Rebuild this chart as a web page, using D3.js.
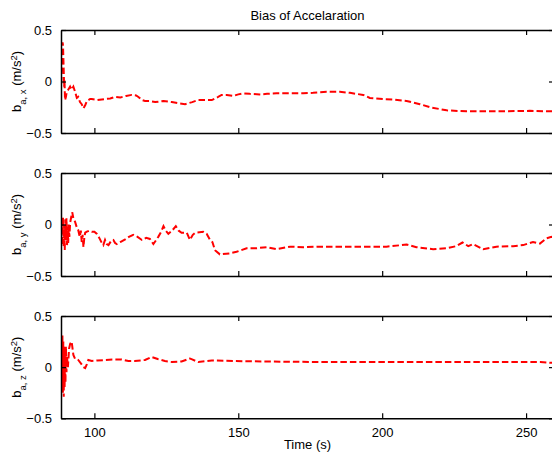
<!DOCTYPE html>
<html>
<head>
<meta charset="utf-8">
<script src="https://cdn.jsdelivr.net/npm/d3@7"></script>
<style>
  html, body { margin: 0; padding: 0; background: #fff; }
  svg { display: block; font-family: "Liberation Sans", Arial, Helvetica, sans-serif; }
</style>
</head>
<body>
<svg id="chart" width="552" height="455"></svg>
<script>
// Accelerometer bias estimates (m/s^2) over time (s)
const timeX = [88.5, 88.7, 88.8, 88.95, 89.1, 89.25, 89.4, 89.5, 89.6, 89.8, 90.1, 90.4, 90.9, 91.56, 92.1, 92.7, 93.3, 93.9, 94.4, 95.0, 95.6, 96.2, 96.8, 97.4, 98.5, 99.1, 101, 103.7, 105.5, 107.2, 109, 111, 113, 114.5, 115.3, 116.5, 117.6, 119, 121.1, 124, 126.9, 129, 131.5, 134, 136.1, 138.5, 140.8, 143, 144.2, 146, 148.3, 150, 151.7, 154, 157.5, 160, 163.3, 168, 172.6, 176, 180.7, 185.3, 188.8, 191, 193.4, 195.7, 200.3, 204, 208.5, 213.1, 216.6, 222.4, 229.3, 240.9, 251.3, 258.3, 260];
const biasX = [-0.02, 0.15, 0.3, 0.38, 0.35, 0.2, 0.05, -0.05, 0.02, -0.18, -0.15, -0.1, -0.08, -0.05, -0.08, -0.05, -0.1, -0.16, -0.15, -0.2, -0.22, -0.26, -0.23, -0.19, -0.17, -0.17, -0.18, -0.17, -0.165, -0.15, -0.155, -0.14, -0.13, -0.135, -0.15, -0.18, -0.19, -0.19, -0.2, -0.19, -0.2, -0.21, -0.22, -0.2, -0.18, -0.18, -0.18, -0.15, -0.13, -0.13, -0.14, -0.125, -0.115, -0.12, -0.125, -0.12, -0.115, -0.115, -0.115, -0.11, -0.1, -0.1, -0.11, -0.12, -0.13, -0.16, -0.17, -0.175, -0.19, -0.22, -0.25, -0.28, -0.29, -0.29, -0.285, -0.29, -0.29];

const timeY = [88.5, 88.7, 88.9, 89.1, 89.3, 89.5, 89.7, 89.9, 90.1, 90.3, 90.5, 90.7, 90.9, 91.1, 91.3, 91.6, 92.0, 92.3, 92.7, 93.3, 93.9, 94.4, 94.9, 95.3, 95.6, 95.9, 96.2, 96.5, 96.8, 97.4, 98.2, 99.1, 100.0, 100.8, 101.7, 102.6, 103.1, 103.7, 104.3, 104.9, 105.8, 106.6, 107.2, 107.8, 109.0, 110.7, 112.0, 113.5, 115.0, 116.5, 118.0, 119.3, 120.5, 121.5, 122.2, 123.2, 124.0, 124.8, 125.7, 127.0, 128.3, 129.3, 130.3, 132.1, 133.2, 134.2, 135.0, 137.8, 139.0, 140.2, 141.0, 141.9, 143.6, 147.1, 149.4, 152.9, 156.4, 159.9, 163.3, 168.0, 172.6, 177.2, 185.3, 193.4, 201.5, 208.5, 211.9, 217.7, 222.4, 225.8, 227.9, 229.9, 231.6, 235.1, 239.7, 245.5, 249.0, 252.4, 254.8, 257.1, 258.8, 260];
const biasY = [-0.05, 0.05, -0.2, 0.07, -0.22, 0.0, -0.25, 0.05, -0.15, 0.06, -0.2, -0.02, -0.18, 0.0, -0.12, 0.02, 0.08, 0.12, 0.06, 0.025, -0.03, -0.055, -0.12, -0.06, -0.17, -0.1, -0.22, -0.13, -0.08, -0.07, -0.06, -0.07, -0.07, -0.09, -0.13, -0.18, -0.2, -0.15, -0.19, -0.2, -0.16, -0.15, -0.18, -0.19, -0.17, -0.145, -0.12, -0.1, -0.12, -0.15, -0.13, -0.14, -0.19, -0.15, -0.12, -0.07, -0.016, -0.06, -0.09, -0.06, -0.016, -0.06, -0.08, -0.08, -0.15, -0.1, -0.08, -0.07, -0.09, -0.15, -0.17, -0.25, -0.29, -0.28, -0.265, -0.23, -0.23, -0.22, -0.24, -0.215, -0.22, -0.215, -0.215, -0.215, -0.215, -0.195, -0.22, -0.24, -0.23, -0.21, -0.175, -0.21, -0.19, -0.24, -0.215, -0.21, -0.2, -0.17, -0.185, -0.135, -0.12, -0.13];

const timeZ = [88.4, 88.6, 88.75, 88.9, 89.05, 89.2, 89.35, 89.5, 89.65, 89.8, 89.95, 90.1, 90.3, 90.5, 90.8, 91.2, 91.6, 92.1, 92.7, 93.3, 94.4, 95.5, 96.2, 96.8, 97.4, 97.9, 99.1, 101, 103.7, 107, 109.5, 111.8, 114, 117.6, 119.9, 122, 124.5, 126.9, 130.3, 133.2, 136.1, 140.8, 148.9, 160, 180, 200, 220, 240, 255, 260];
const biasZ = [0.0, 0.3, -0.2, 0.31, -0.25, 0.25, -0.29, 0.2, -0.2, 0.15, -0.15, 0.2, -0.05, 0.1, 0.0, 0.18, 0.23, 0.25, 0.12, 0.08, 0.07, 0.03, 0.0, -0.01, 0.03, 0.07, 0.06, 0.065, 0.07, 0.075, 0.075, 0.06, 0.06, 0.07, 0.1, 0.08, 0.06, 0.05, 0.055, 0.085, 0.05, 0.065, 0.06, 0.055, 0.05, 0.05, 0.05, 0.05, 0.05, 0.04];

const xTicks = [100, 150, 200, 250];
const yTicks = [-0.5, 0, 0.5];
const xDomain = [88.4, 259.7];
const yDomain = [-0.5, 0.5];
const axisLabels = ["x", "y", "z"];
const chartTitle = "Bias of Accelaration";
const xTitle = "Time (s)";

const svg = d3.select("#chart");
const left = 61, right = 554;
const panels = [
  { top: 30, bottom: 133, t: timeX, v: biasX, comp: axisLabels[0] },
  { top: 173, bottom: 276, t: timeY, v: biasY, comp: axisLabels[1] },
  { top: 316, bottom: 418.3, t: timeZ, v: biasZ, comp: axisLabels[2] }
];

const x = d3.scaleLinear().domain(xDomain).range([left, right]);
const tickLen = 5;

panels.forEach((p, i) => {
  const y = d3.scaleLinear().domain(yDomain).range([p.bottom, p.top]);
  const g = svg.append("g");

  const clipId = "clip" + i;
  svg.append("clipPath").attr("id", clipId)
    .append("rect").attr("x", left).attr("y", p.top)
    .attr("width", right - left).attr("height", p.bottom - p.top);

  // data trace
  const line = d3.line().x((d, k) => x(p.t[k])).y(d => y(d));
  g.append("path")
    .datum(p.v)
    .attr("clip-path", `url(#${clipId})`)
    .attr("d", line)
    .attr("fill", "none")
    .attr("stroke", "#ff0000")
    .attr("stroke-width", 2)
    .attr("stroke-dasharray", "6.5,3");

  const isLast = i === panels.length - 1;

  // bottom axis (labels on the last panel only)
  const bottomAxis = d3.axisBottom(x).tickValues(xTicks).tickSizeInner(-tickLen).tickSizeOuter(0)
    .tickPadding(tickLen + 4).tickFormat(isLast ? d3.format("d") : () => "");
  const topAxis = d3.axisTop(x).tickValues(xTicks).tickSizeInner(-tickLen).tickSizeOuter(0).tickFormat(() => "");
  const leftAxis = d3.axisLeft(y).tickValues(yTicks).tickSizeInner(-tickLen).tickSizeOuter(0)
    .tickPadding(tickLen + 4).tickFormat(d => d === 0 ? "0" : d3.format(".1f")(d));
  const rightAxis = d3.axisRight(y).tickValues(yTicks).tickSizeInner(-tickLen).tickSizeOuter(0).tickFormat(() => "");

  const styleAxis = sel => {
    sel.select(".domain").attr("stroke", "#000").attr("stroke-width", 1.5);
    sel.selectAll(".tick line").attr("stroke", "#000").attr("stroke-width", 1.2);
    sel.selectAll(".tick text").attr("fill", "#000").attr("font-size", 13)
      .attr("font-family", "Liberation Sans, Arial, Helvetica, sans-serif");
  };

  g.append("g").attr("transform", `translate(0,${p.bottom})`).call(bottomAxis).call(styleAxis);
  g.append("g").attr("transform", `translate(0,${p.top})`).call(topAxis).call(styleAxis);
  g.append("g").attr("transform", `translate(${left},0)`).call(leftAxis).call(styleAxis);
  g.append("g").attr("transform", `translate(${right},0)`).call(rightAxis).call(styleAxis);

  // y-axis label: b_{a, c} (m/s^2)
  const cy = (p.top + p.bottom) / 2;
  const lab = svg.append("text")
    .attr("transform", `translate(21,${cy}) rotate(-90)`)
    .attr("text-anchor", "middle")
    .attr("font-size", 13)
    .attr("fill", "#000");
  lab.append("tspan").text("b");
  lab.append("tspan").attr("dy", 5).attr("font-size", 9.5).text("a, " + p.comp);
  lab.append("tspan").attr("dy", -5).text(" (m/s");
  lab.append("tspan").attr("dy", -4.5).attr("font-size", 9.5).text("2");
  lab.append("tspan").attr("dy", 4.5).text(")");
});

svg.append("text")
  .attr("x", (left + right) / 2).attr("y", 20)
  .attr("text-anchor", "middle").attr("font-size", 13).attr("fill", "#000")
  .text(chartTitle);

svg.append("text")
  .attr("x", (left + right) / 2).attr("y", 449)
  .attr("text-anchor", "middle").attr("font-size", 13).attr("fill", "#000")
  .text(xTitle);
</script>
</body>
</html>
